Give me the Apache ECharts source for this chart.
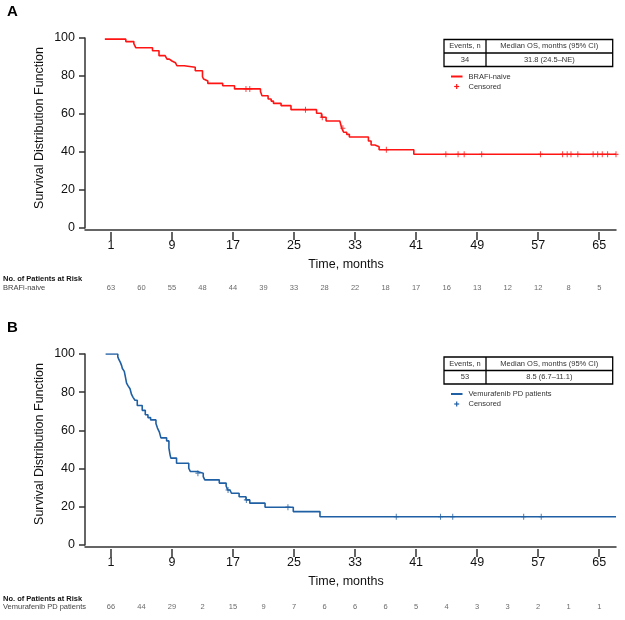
<!DOCTYPE html>
<html><head><meta charset="utf-8">
<script src="https://cdn.jsdelivr.net/npm/echarts@6/dist/echarts.min.js"></script>
<style>html,body{margin:0;padding:0;background:#fff}#c{width:625px;height:620px}</style>
</head><body><div id="c"></div>
<script>
const FONT = '"Liberation Sans", Arial, Helvetica, sans-serif';

// ---------- data ----------
const xTickValues = [1, 9, 17, 25, 33, 41, 49, 57, 65];
const riskTimes = [1, 5, 9, 13, 17, 21, 25, 29, 33, 37, 41, 45, 49, 53, 57, 61, 65];
const riskA = [63, 60, 55, 48, 44, 39, 33, 28, 22, 18, 17, 16, 13, 12, 12, 8, 5];
const riskB = [66, 44, 29, 2, 15, 9, 7, 6, 6, 6, 5, 4, 3, 3, 2, 1, 1];

const timesA = [0.2, 2.95, 4.0, 4.25, 6.45, 7.3, 8.1, 8.35, 8.65, 9.0, 9.45, 9.65, 10.6, 12.05, 13.0, 13.15, 13.4, 13.7, 15.65, 17.2, 20.6, 20.8, 21.6, 22.0, 22.3, 23.3, 24.6, 27.95, 28.6, 29.2, 31.0, 31.25, 31.5, 31.9, 32.25, 34.75, 35.1, 35.6, 36.15, 40.7, 67.2];
const survA  = [99.4, 98.1, 97.0, 94.9, 93.3, 90.7, 89.8, 88.9, 87.9, 87.0, 86.1, 85.4, 84.6, 82.8, 79.6, 78.4, 77.4, 76.1, 74.9, 73.2, 71.8, 69.6, 67.9, 66.8, 65.6, 64.4, 62.3, 60.4, 58.3, 56.3, 55.4, 52.5, 50.4, 49.3, 47.9, 45.8, 43.7, 42.8, 41.2, 38.8, 38.8];
const censorA = [18.7, 19.2, 26.5, 28.7, 31.4, 37.1, 44.9, 46.5, 47.3, 49.6, 57.3, 60.2, 60.8, 61.3, 62.2, 64.2, 64.8, 65.4, 66.1, 67.2];

const timesB = [0.3, 1.9, 2.05, 2.25, 2.4, 2.5, 2.75, 2.9, 3.05, 3.25, 3.5, 3.7, 3.9, 4.15, 4.45, 5.1, 5.5, 5.85, 6.2, 6.9, 7.1, 7.35, 7.55, 8.3, 8.6, 8.75, 8.85, 9.6, 11.2, 11.4, 12.3, 13.1, 13.3, 15.2, 16.1, 16.3, 16.6, 16.8, 17.8, 18.7, 19.2, 21.2, 24.9, 28.4, 67.2];
const survB  = [100, 98.5, 97.0, 95.5, 93.9, 92.4, 90.9, 87.9, 84.8, 83.3, 81.8, 78.8, 77.3, 75.8, 73.0, 70.5, 68.2, 66.7, 65.5, 63.6, 61.2, 59.1, 56.1, 54.5, 50.7, 47.2, 45.5, 42.8, 40.2, 38.5, 37.6, 35.8, 34.1, 32.4, 30.9, 28.8, 28.0, 27.1, 25.3, 23.6, 21.9, 19.8, 17.5, 14.8, 14.8];
const censorB = [12.4, 16.35, 18.75, 24.2, 38.4, 44.2, 45.8, 55.1, 57.4];

const tableHeader = ['Events, n', 'Median OS, months (95% CI)'];
const tableA = ['34', '31.8 (24.5\u2013NE)'];
const tableB = ['53', '8.5 (6.7\u201311.1)'];
const nameA = 'BRAFi-naive';
const nameB = 'Vemurafenib PD patients';
const censorName = 'Censored';
const yName = 'Survival Distribution Function';
const xName = 'Time, months';
const riskTitle = 'No. of Patients at Risk';

// ---------- styling ----------
const RED = '#ff1414';
const BLUE = '#1f5fa3';
const AXIS = '#333';
const TXT = '#111';
const XMIN = -2.4, XMAX = 67.2;

function survAt(times, surv, t) {
  let v = surv[0];
  for (let i = 0; i < times.length; i++) { if (times[i] <= t) v = surv[i]; }
  return v;
}
const zip = (a, b) => a.map((v, i) => [v, b[i]]);
const PLUS = 'path://M2,0H3V2H5V3H3V5H2V3H0V2H2Z';

function lineAxis(grid, off) {
  return { type: 'value', gridIndex: grid, position: 'bottom', min: XMIN, max: XMAX, offset: off,
    axisLine: { show: true, onZero: false, lineStyle: { color: AXIS, width: 1.5 } },
    axisTick: { show: false }, axisLabel: { show: false }, splitLine: { show: false } };
}
function tickAxis(grid) {
  return { type: 'value', gridIndex: grid, position: 'bottom', min: XMIN, max: XMAX, offset: 4,
    axisLine: { show: false, onZero: false },
    axisTick: { show: true, length: 8, customValues: xTickValues, lineStyle: { color: AXIS, width: 1.5 } },
    axisLabel: { show: true, customValues: xTickValues, margin: 7, fontSize: 12.5, fontFamily: FONT, color: TXT },
    splitLine: { show: false },
    name: xName, nameLocation: 'middle', nameGap: 26,
    nameTextStyle: { fontSize: 12.5, fontFamily: FONT, color: TXT, padding: [0, 9, 0, 0] } };
}
function yAxisPlot(grid) {
  return { type: 'value', gridIndex: grid, position: 'left', min: 0, max: 100, interval: 20,
    axisLine: { show: true, onZero: false, lineStyle: { color: AXIS, width: 1.5 } },
    axisTick: { show: true, length: 6, lineStyle: { color: AXIS, width: 1.5 } },
    axisLabel: { margin: 10, fontSize: 12.5, fontFamily: FONT, color: TXT },
    splitLine: { show: false } };
}
function hiddenX(grid) { return { type: 'value', gridIndex: grid, min: XMIN, max: XMAX, show: false }; }
function hiddenY(grid) { return { type: 'value', gridIndex: grid, min: 0, max: 1, show: false }; }

function riskSeries(xi, yi, counts) {
  return { type: 'scatter', xAxisIndex: xi, yAxisIndex: yi, symbolSize: 1, silent: true,
    itemStyle: { color: 'rgba(0,0,0,0)' },
    label: { show: true, position: 'inside', formatter: p => String(p.value[2]),
      fontSize: 7.5, fontFamily: FONT, color: '#444' },
    data: riskTimes.map((t, i) => [t, 0.5, counts[i]]) };
}

function tableGraphics(top, row, color, legendName) {
  const L = 444, R = 612.7, C = 486, H = 13.5;
  const f = '7.5px ' + FONT;
  return [
    { type: 'rect', shape: { x: L, y: top, width: R - L, height: 2 * H }, style: { fill: 'none', stroke: '#000', lineWidth: 1.3 } },
    { type: 'line', shape: { x1: L, y1: top + H, x2: R, y2: top + H }, style: { stroke: '#000', lineWidth: 1.3 } },
    { type: 'line', shape: { x1: C, y1: top, x2: C, y2: top + 2 * H }, style: { stroke: '#000', lineWidth: 1.3 } },
    { type: 'text', x: (L + C) / 2, y: top + H / 2, style: { text: tableHeader[0], font: f, fill: '#333', align: 'center', verticalAlign: 'middle' } },
    { type: 'text', x: (C + R) / 2, y: top + H / 2, style: { text: tableHeader[1], font: f, fill: '#333', align: 'center', verticalAlign: 'middle' } },
    { type: 'text', x: (L + C) / 2, y: top + 1.5 * H, style: { text: row[0], font: f, fill: '#333', align: 'center', verticalAlign: 'middle' } },
    { type: 'text', x: (C + R) / 2, y: top + 1.5 * H, style: { text: row[1], font: f, fill: '#333', align: 'center', verticalAlign: 'middle' } },
    { type: 'line', shape: { x1: 451, y1: top + 37, x2: 462.5, y2: top + 37 }, style: { stroke: color, lineWidth: 2 } },
    { type: 'line', shape: { x1: 456.7, y1: top + 44.5, x2: 456.7, y2: top + 49.5 }, style: { stroke: color, lineWidth: 1.2 } },
    { type: 'line', shape: { x1: 454.2, y1: top + 47, x2: 459.2, y2: top + 47 }, style: { stroke: color, lineWidth: 1.2 } },
    { type: 'text', x: 468.5, y: top + 37, style: { text: legendName, font: f, fill: '#333', align: 'left', verticalAlign: 'middle' } },
    { type: 'text', x: 468.5, y: top + 47, style: { text: censorName, font: f, fill: '#333', align: 'left', verticalAlign: 'middle' } }
  ];
}

const chart = echarts.init(document.getElementById('c'), null, { renderer: 'canvas' });
const option = {
  animation: false,
  backgroundColor: '#fff',
  grid: [
    { left: 85, right: 9, top: 38, height: 190 },
    { left: 85, right: 9, top: 354, height: 191 },
    { left: 85, right: 9, top: 281.5, height: 12 },
    { left: 85, right: 9, top: 601.3, height: 12 }
  ],
  xAxis: [lineAxis(0, 1.3), tickAxis(0), lineAxis(1, 2), tickAxis(1), hiddenX(2), hiddenX(3)],
  yAxis: [yAxisPlot(0), yAxisPlot(1), hiddenY(2), hiddenY(3)],
  series: [
    { name: nameA, type: 'line', xAxisIndex: 0, yAxisIndex: 0, step: 'end', showSymbol: false, silent: true,
      lineStyle: { color: RED, width: 1.6 }, data: zip(timesA, survA) },
    { name: censorName, type: 'scatter', xAxisIndex: 0, yAxisIndex: 0, symbol: PLUS, symbolSize: [5, 6], silent: true,
      itemStyle: { color: RED }, data: censorA.map(t => [t, survAt(timesA, survA, t)]) },
    { name: nameB, type: 'line', xAxisIndex: 2, yAxisIndex: 1, step: 'end', showSymbol: false, silent: true,
      lineStyle: { color: BLUE, width: 1.6 }, data: zip(timesB, survB) },
    { name: censorName, type: 'scatter', xAxisIndex: 2, yAxisIndex: 1, symbol: PLUS, symbolSize: [5, 6], silent: true,
      itemStyle: { color: BLUE }, data: censorB.map(t => [t, survAt(timesB, survB, t)]) },
    riskSeries(4, 2, riskA),
    riskSeries(5, 3, riskB)
  ],
  graphic: [
    { type: 'text', x: 7, y: 4, style: { text: 'A', font: 'bold 15px ' + FONT, fill: '#000' } },
    { type: 'text', x: 7, y: 320, style: { text: 'B', font: 'bold 15px ' + FONT, fill: '#000' } },
    { type: 'text', x: 40, y: 128, rotation: Math.PI / 2, style: { text: yName, font: '12.5px ' + FONT, fill: TXT, align: 'center', verticalAlign: 'middle' } },
    { type: 'text', x: 40, y: 444, rotation: Math.PI / 2, style: { text: yName, font: '12.5px ' + FONT, fill: TXT, align: 'center', verticalAlign: 'middle' } },
    { type: 'text', x: 3, y: 279, style: { text: riskTitle, font: 'bold 7.5px ' + FONT, fill: '#111', align: 'left', verticalAlign: 'middle' } },
    { type: 'text', x: 3, y: 287.5, style: { text: nameA, font: '7.5px ' + FONT, fill: '#444', align: 'left', verticalAlign: 'middle' } },
    { type: 'text', x: 3, y: 599.3, style: { text: riskTitle, font: 'bold 7.5px ' + FONT, fill: '#111', align: 'left', verticalAlign: 'middle' } },
    { type: 'text', x: 3, y: 607.3, style: { text: nameB, font: '7.5px ' + FONT, fill: '#444', align: 'left', verticalAlign: 'middle' } }
  ].concat(tableGraphics(39.5, tableA, RED, nameA), tableGraphics(357, tableB, BLUE, nameB))
};
chart.setOption(option);
</script></body></html>
